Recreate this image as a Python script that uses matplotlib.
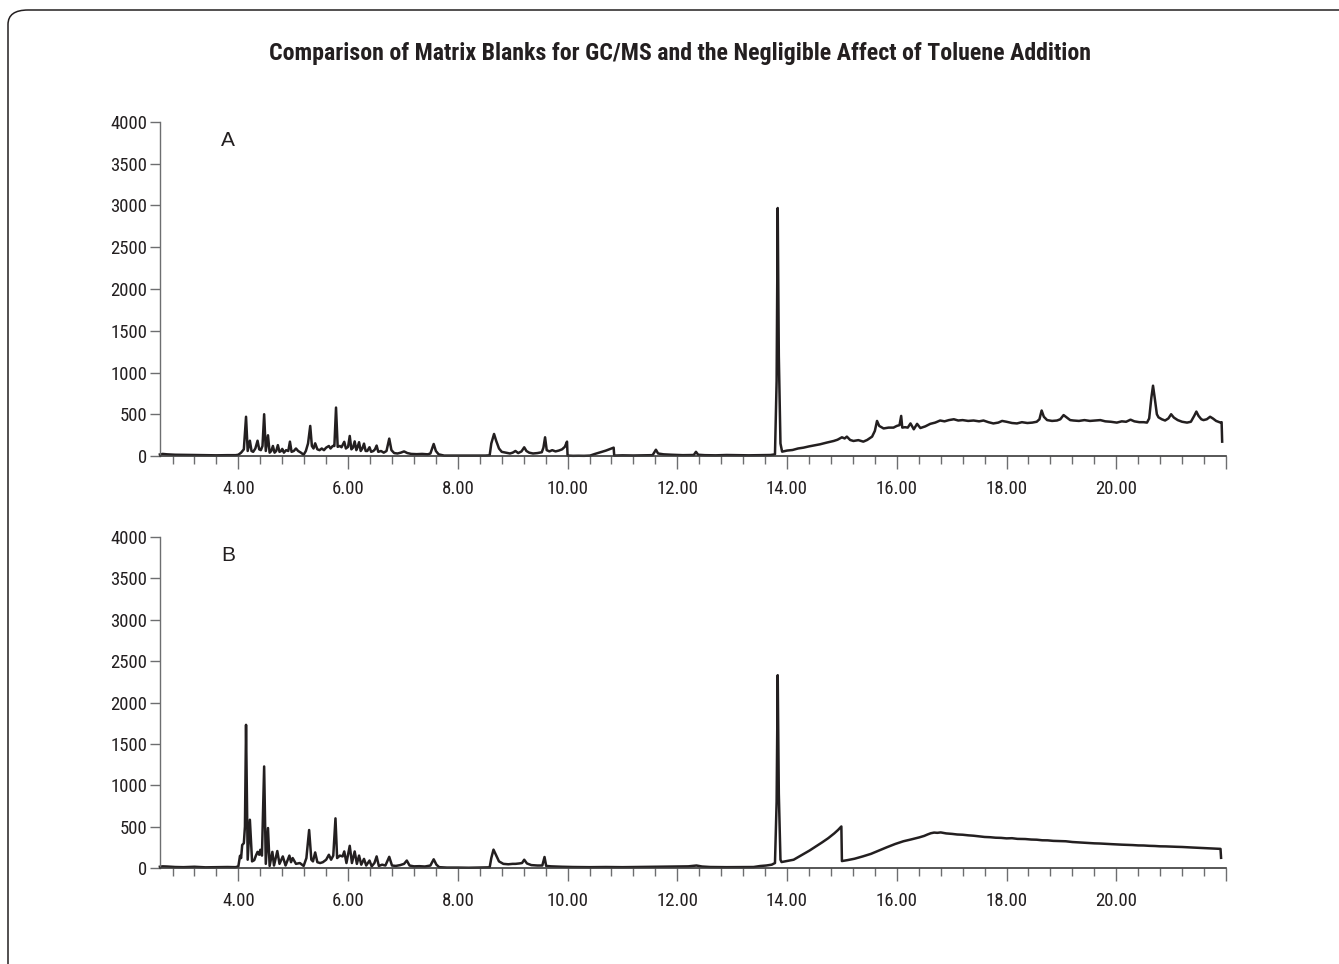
import matplotlib
matplotlib.use("Agg")
import matplotlib.pyplot as plt
from matplotlib import font_manager
from matplotlib.patches import FancyBboxPatch
from matplotlib.ticker import FixedLocator, MultipleLocator

# retention time (min) / abundance for the two matrix blanks
time_a = [
    2.57, 2.62, 2.70, 2.85, 3.00, 3.20, 3.40, 3.60, 3.80, 3.95,
    4.00, 4.05, 4.10, 4.14, 4.17, 4.21, 4.24, 4.27, 4.31, 4.35, 4.38, 4.41, 4.44, 4.47,
    4.50, 4.54, 4.57, 4.60, 4.63, 4.66, 4.69, 4.72, 4.75, 4.78, 4.80, 4.83, 4.87, 4.91,
    4.94, 4.97, 5.01, 5.05, 5.09, 5.14, 5.19, 5.23, 5.27, 5.31, 5.34, 5.37, 5.40, 5.44,
    5.48, 5.52, 5.56, 5.60, 5.65, 5.68, 5.72, 5.75, 5.78, 5.81, 5.85, 5.88, 5.93, 5.96,
    6.00, 6.03, 6.06, 6.09, 6.12, 6.15, 6.17, 6.20, 6.23, 6.26, 6.29, 6.32, 6.35, 6.39,
    6.42, 6.46, 6.49, 6.52, 6.55, 6.60, 6.65, 6.70, 6.75, 6.79, 6.84, 6.90, 6.96, 7.02,
    7.08, 7.15, 7.25, 7.35, 7.45, 7.50, 7.56, 7.60, 7.65, 7.75, 7.90, 8.10, 8.30, 8.50,
    8.58, 8.61, 8.66, 8.70, 8.75, 8.80, 8.88, 8.95, 9.00, 9.05, 9.10, 9.16, 9.21, 9.25,
    9.30, 9.37, 9.45, 9.53, 9.56, 9.59, 9.62, 9.67, 9.72, 9.78, 9.84, 9.90, 9.95, 9.99,
    10.00, 10.10, 10.20, 10.30, 10.41, 10.50, 10.60, 10.70, 10.80, 10.84, 10.85, 11.00,
    11.20, 11.40, 11.55, 11.61, 11.65, 11.75, 11.90, 12.10, 12.30, 12.34, 12.38, 12.50,
    12.70, 12.90, 13.10, 13.30, 13.50, 13.70, 13.78, 13.81, 13.83, 13.85, 13.88, 13.91,
    14.00, 14.10, 14.20, 14.30, 14.40, 14.50, 14.60, 14.72, 14.85, 14.92, 15.00, 15.05,
    15.09, 15.15, 15.21, 15.30, 15.39, 15.46, 15.55, 15.60, 15.64, 15.68, 15.76, 15.85,
    15.94, 16.00, 16.05, 16.08, 16.10, 16.15, 16.20, 16.25, 16.31, 16.37, 16.43, 16.52,
    16.61, 16.70, 16.79, 16.87, 16.95, 17.04, 17.12, 17.20, 17.30, 17.40, 17.50, 17.58,
    17.67, 17.76, 17.85, 17.92, 18.00, 18.10, 18.19, 18.28, 18.38, 18.47, 18.55, 18.60,
    18.64, 18.68, 18.74, 18.83, 18.92, 18.98, 19.04, 19.10, 19.16, 19.22, 19.32, 19.42,
    19.52, 19.62, 19.71, 19.80, 19.90, 20.01, 20.10, 20.18, 20.26, 20.33, 20.42, 20.50,
    20.56, 20.60, 20.64, 20.67, 20.70, 20.74, 20.77, 20.83, 20.89, 20.95, 21.00, 21.05,
    21.12, 21.20, 21.29, 21.36, 21.42, 21.46, 21.50, 21.55, 21.59, 21.65, 21.71, 21.76,
    21.82, 21.90, 21.92, 21.93,
]
abund_a = [
    18, 25, 20, 15, 14, 12, 10, 8, 10, 10,
    15, 40, 80, 470, 60, 183, 60, 50, 90, 183, 80, 70, 120, 500,
    60, 248, 40, 60, 120, 40, 60, 130, 50, 60, 85, 40, 70, 60,
    172, 50, 60, 90, 60, 40, 15, 60, 150, 360, 120, 90, 152, 80,
    70, 90, 70, 100, 120, 90, 120, 120, 580, 110, 120, 105, 170, 90,
    110, 240, 80, 100, 175, 70, 100, 165, 60, 90, 148, 60, 60, 105,
    50, 60, 80, 125, 50, 60, 40, 60, 208, 70, 35, 30, 40, 55,
    35, 25, 22, 25, 20, 30, 144, 60, 20, 5, 5, 4, 5, 5,
    8, 150, 264, 180, 90, 50, 40, 30, 40, 60, 35, 55, 104, 60,
    40, 30, 35, 45, 100, 224, 70, 55, 70, 55, 65, 80, 110, 172,
    5, 2, 3, 2, 5, 25, 45, 65, 90, 100, 5, 8,
    6, 8, 10, 75, 30, 20, 15, 10, 12, 50, 15, 10,
    8, 12, 10, 8, 10, 12, 20, 900, 2970, 1200, 150, 52,
    65, 72, 90, 100, 115, 128, 140, 160, 180, 195, 224, 210,
    232, 192, 180, 190, 172, 192, 232, 300, 420, 360, 330, 340,
    340, 360, 370, 480, 340, 345, 340, 390, 320, 385, 335, 355,
    385, 400, 425, 415, 430, 440, 425, 430, 420, 425, 415, 425,
    405, 390, 400, 420, 410, 395, 390, 405, 395, 400, 410, 440,
    545, 470, 430, 420, 425, 440, 490, 460, 430, 425, 420, 430,
    420, 425, 430, 415, 410, 400, 415, 410, 435, 415, 405, 405,
    400, 450, 700, 842, 700, 500, 463, 440, 425, 450, 500, 460,
    430, 410, 400, 410, 480, 532, 480, 440, 430, 440, 470, 450,
    420, 400, 405, 172,
]

time_b = [
    2.57, 2.62, 2.70, 2.85, 3.00, 3.20, 3.40, 3.60, 3.80, 3.95,
    4.00, 4.03, 4.05, 4.07, 4.10, 4.12, 4.14, 4.17, 4.21, 4.25, 4.29, 4.32, 4.35, 4.38,
    4.40, 4.43, 4.47, 4.50, 4.54, 4.57, 4.62, 4.65, 4.71, 4.75, 4.81, 4.86, 4.93, 4.96,
    4.99, 5.05, 5.12, 5.19, 5.24, 5.29, 5.33, 5.36, 5.40, 5.44, 5.49, 5.54, 5.60, 5.65,
    5.69, 5.73, 5.77, 5.80, 5.85, 5.90, 5.93, 5.97, 6.03, 6.07, 6.12, 6.16, 6.20, 6.24,
    6.29, 6.33, 6.39, 6.43, 6.48, 6.52, 6.56, 6.62, 6.68, 6.75, 6.80, 6.87, 6.95, 7.02,
    7.07, 7.12, 7.20, 7.30, 7.40, 7.50, 7.56, 7.61, 7.66, 7.80, 8.00, 8.20, 8.40, 8.58,
    8.61, 8.65, 8.70, 8.75, 8.83, 8.92, 9.00, 9.05, 9.12, 9.17, 9.21, 9.26, 9.34, 9.45,
    9.54, 9.58, 9.61, 9.70, 9.90, 10.10, 10.40, 10.70, 11.00, 11.30, 11.60, 11.90,
    12.20, 12.35, 12.45, 12.60, 12.90, 13.20, 13.39, 13.51, 13.62, 13.72, 13.78, 13.81,
    13.83, 13.85, 13.88, 13.90, 14.00, 14.12, 14.25, 14.41, 14.52, 14.64, 14.75, 14.86,
    14.93, 14.99, 15.00, 15.10, 15.23, 15.38, 15.53, 15.67, 15.82, 15.97, 16.12, 16.26,
    16.41, 16.50, 16.56, 16.62, 16.68, 16.74, 16.80, 16.90, 17.01, 17.10, 17.20, 17.30,
    17.40, 17.50, 17.60, 17.70, 17.80, 17.90, 18.00, 18.10, 18.20, 18.34, 18.45, 18.55,
    18.65, 18.75, 18.85, 18.95, 19.08, 19.20, 19.30, 19.40, 19.50, 19.60, 19.70, 19.82,
    19.92, 20.00, 20.10, 20.20, 20.30, 20.40, 20.50, 20.60, 20.70, 20.80, 20.90, 21.00,
    21.10, 21.20, 21.30, 21.40, 21.50, 21.60, 21.70, 21.80, 21.90, 21.91,
]
abund_b = [
    15, 20, 18, 12, 10, 15, 8, 10, 12, 10,
    20, 148, 120, 278, 300, 500, 1730, 100, 583, 80, 95, 150, 195, 160,
    220, 150, 1227, 50, 483, 25, 195, 30, 205, 50, 140, 30, 150, 70,
    120, 50, 60, 25, 120, 459, 100, 80, 188, 70, 60, 70, 100, 160,
    100, 150, 600, 120, 150, 140, 200, 60, 268, 60, 200, 50, 150, 40,
    110, 30, 90, 20, 60, 140, 25, 40, 30, 135, 30, 25, 35, 50,
    90, 30, 20, 22, 18, 30, 105, 40, 10, 5, 5, 3, 5, 8,
    120, 222, 150, 80, 50, 45, 50, 50, 55, 60, 100, 55, 35, 30,
    30, 133, 25, 20, 15, 12, 10, 12, 10, 12, 15, 18,
    20, 30, 18, 12, 10, 12, 12, 24, 30, 40, 60, 800,
    2330, 900, 100, 72, 85, 100, 150, 211, 258, 310, 360, 418,
    460, 502, 84, 95, 112, 140, 171, 210, 251, 290, 323, 345,
    370, 388, 405, 420, 428, 425, 430, 418, 412, 405, 402, 395,
    390, 382, 375, 372, 366, 364, 358, 360, 352, 350, 344, 342,
    335, 334, 328, 326, 323, 314, 310, 306, 302, 298, 296, 291,
    288, 285, 282, 280, 277, 273, 272, 268, 266, 262, 261, 258,
    256, 254, 250, 247, 244, 240, 239, 235, 231, 123,
]

panel_labels = ["A", "B"]
x_tick_values = [4.0, 6.0, 8.0, 10.0, 12.0, 14.0, 16.0, 18.0, 20.0]
x_tick_labels = ["4.00", "6.00", "8.00", "10.00", "12.00", "14.00", "16.00", "18.00", "20.00"]
y_tick_values = [0, 500, 1000, 1500, 2000, 2500, 3000, 3500, 4000]

TRACE = "#231f20"
AXIS = "#6d6e70"


def pick_narrow():
    have = {f.name for f in font_manager.fontManager.ttflist}
    for name in ["Roboto Condensed", "Archivo Narrow", "PT Sans Narrow",
                 "Liberation Sans Narrow", "Encode Sans Condensed",
                 "IBM Plex Sans Condensed", "Barlow Condensed", "Pragati Narrow"]:
        if name in have:
            return [name, "DejaVu Sans"]
    return ["DejaVu Sans"]


NARROW = pick_narrow()


def style_axis(ax):
    ax.set_xlim(2.572, 22.0)
    ax.set_ylim(0, 4000)
    for side in ("top", "right"):
        ax.spines[side].set_visible(False)
    ax.spines["left"].set_color(AXIS)
    ax.spines["bottom"].set_color("#3a3a3a")
    ax.spines["left"].set_linewidth(1.0)
    ax.spines["bottom"].set_linewidth(1.2)

    ax.xaxis.set_major_locator(FixedLocator(x_tick_values + [22.0]))
    ax.set_xticklabels(x_tick_labels + [""])
    ax.xaxis.set_minor_locator(MultipleLocator(0.4))
    ax.tick_params(axis="x", which="major", direction="out", length=9,
                   width=1.0, color=AXIS, pad=8)
    ax.tick_params(axis="x", which="minor", direction="out", length=6,
                   width=1.0, color=AXIS)

    ax.set_yticks(y_tick_values)
    ax.set_yticklabels([str(v) for v in y_tick_values])
    ax.tick_params(axis="y", direction="out", length=7, width=1.0,
                   color=AXIS, pad=2)

    for lbl in ax.get_xticklabels() + ax.get_yticklabels():
        lbl.set_family(NARROW)
        lbl.set_fontsize(13.5)
        lbl.set_color(TRACE)


fig = plt.figure(figsize=(13.39, 9.64), dpi=100)

# rounded frame, running off the right and bottom edges
frame = FancyBboxPatch((8 / 1339, -0.2), 1.3, 1.2 - 10 / 964,
                       boxstyle="round,pad=0,rounding_size=0.015",
                       transform=fig.transFigure, facecolor="none",
                       edgecolor="#231f20", linewidth=1.1, zorder=0)
fig.patches.append(frame)

fig.text(0.5075, 0.945,
         "Comparison of Matrix Blanks for GC/MS and the Negligible Affect of Toluene Addition",
         ha="center", va="center", fontsize=17.2, fontweight="bold",
         family=NARROW, color=TRACE)

left = 160 / 1339
width = (1226 - 160) / 1339
ax_a = fig.add_axes([left, 1 - 456 / 964, width, 334 / 964])
ax_b = fig.add_axes([left, 1 - 868 / 964, width, 331 / 964])

for ax, t, y, name in [(ax_a, time_a, abund_a, panel_labels[0]),
                       (ax_b, time_b, abund_b, panel_labels[1])]:
    ax.plot(t, y, color=TRACE, lw=1.8, solid_joinstyle="round", clip_on=False)
    style_axis(ax)
    ax.text(3.81, 3780, name, fontsize=15, family=["Liberation Sans", "DejaVu Sans"],
            color=TRACE, ha="center", va="center")

fig.savefig("out.png", dpi=100)
